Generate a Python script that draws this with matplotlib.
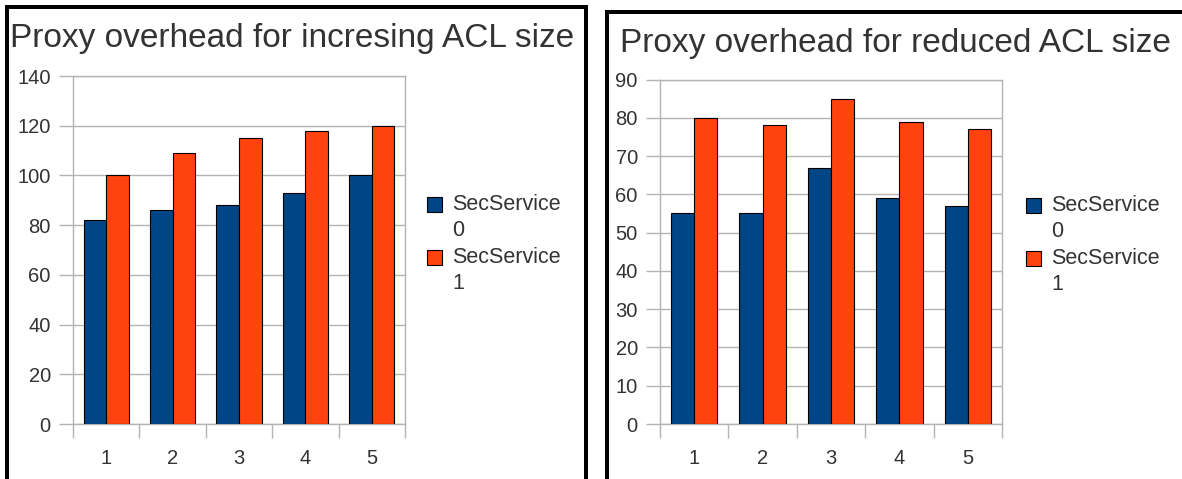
import matplotlib.pyplot as plt
from matplotlib.patches import Rectangle
import numpy as np

plt.rcParams['font.family'] = ['Liberation Sans', 'DejaVu Sans']

# Data
categories = ['1', '2', '3', '4', '5']
series_names = ['SecService\n0', 'SecService\n1']
increasing_s0 = [82, 86, 88, 93, 100]
increasing_s1 = [100, 109, 115, 118, 120]
reduced_s0 = [55, 55, 67, 59, 57]
reduced_s1 = [80, 78, 85, 79, 77]

BLUE = '#004586'
ORANGE = '#ff420e'
GRID = '#b3b3b3'
TEXT = '#333333'

W, H = 1182, 479
fig = plt.figure(figsize=(W / 100, H / 100), dpi=100)


def px_axes(left, top, right, bottom):
    return fig.add_axes([left / W, 1 - bottom / H, (right - left) / W, (bottom - top) / H])


def legend_box(x, y, colors):
    # square swatch aligned with the first line of each two-line label
    for i, (c, name) in enumerate(zip(colors, series_names)):
        top = y + i * 53
        fig.add_artist(Rectangle((x / W, 1 - (top + 15) / H), 15 / W, 15 / H,
                                 transform=fig.transFigure, facecolor=c,
                                 edgecolor='black', linewidth=0.8))
        fig.text((x + 25) / W, 1 - (top - 3) / H, name, fontsize=15.5, color=TEXT,
                 ha='left', va='top', linespacing=1.32)


def panel(ax, s0, s1, ymax, ystep, title, title_x, title_y, legend_xy):
    x = np.arange(1, len(categories) + 1)
    w = 0.34
    ax.bar(x - w / 2, s0, w, color=BLUE, edgecolor='black', linewidth=0.8, zorder=3)
    ax.bar(x + w / 2, s1, w, color=ORANGE, edgecolor='black', linewidth=0.8, zorder=3)
    ax.set_xlim(0.5, len(categories) + 0.5)
    ax.set_ylim(0, ymax)
    ax.set_yticks(np.arange(0, ymax + 1, ystep))
    ax.yaxis.grid(True, color=GRID, linewidth=1.0, zorder=0)
    # boundary ticks between categories, labels centred on each category
    ax.set_xticks(np.arange(0.5, len(categories) + 1, 1.0))
    ax.set_xticklabels([])
    ax.set_xticks(x, minor=True)
    ax.set_xticklabels(categories, minor=True)
    ax.tick_params(axis='x', which='major', length=10, width=1, color=GRID)
    ax.tick_params(axis='x', which='minor', length=0, pad=18, labelsize=14.5, labelcolor=TEXT)
    ax.tick_params(axis='y', length=10, width=1, color=GRID, pad=6, labelsize=14.5,
                   labelcolor=TEXT)
    for sp in ax.spines.values():
        sp.set_color(GRID)
        sp.set_linewidth(1.0)
    fig.text(title_x / W, 1 - title_y / H, title, fontsize=24, color=TEXT,
             ha='left', va='baseline')
    legend_box(legend_xy[0], legend_xy[1], [BLUE, ORANGE])


ax1 = px_axes(73, 76, 405, 424)
panel(ax1, increasing_s0, increasing_s1, 140, 20,
      'Proxy overhead for incresing ACL size', 10, 47, (427, 197))

ax2 = px_axes(660, 79.5, 1002, 424)
panel(ax2, reduced_s0, reduced_s1, 90, 10,
      'Proxy overhead for reduced ACL size', 620, 52, (1026, 198))

# black frames around each chart
lw = 4 * 72 / 100
fig.add_artist(Rectangle((7 / W, -0.1), (586 - 7) / W, 1.1 - 7 / H,
                         transform=fig.transFigure, fill=False, edgecolor='black',
                         linewidth=lw))
fig.add_artist(Rectangle((607 / W, -0.1), 1.0, 1.1 - 12 / H,
                         transform=fig.transFigure, fill=False, edgecolor='black',
                         linewidth=lw))

fig.savefig('out.png', dpi=100)
